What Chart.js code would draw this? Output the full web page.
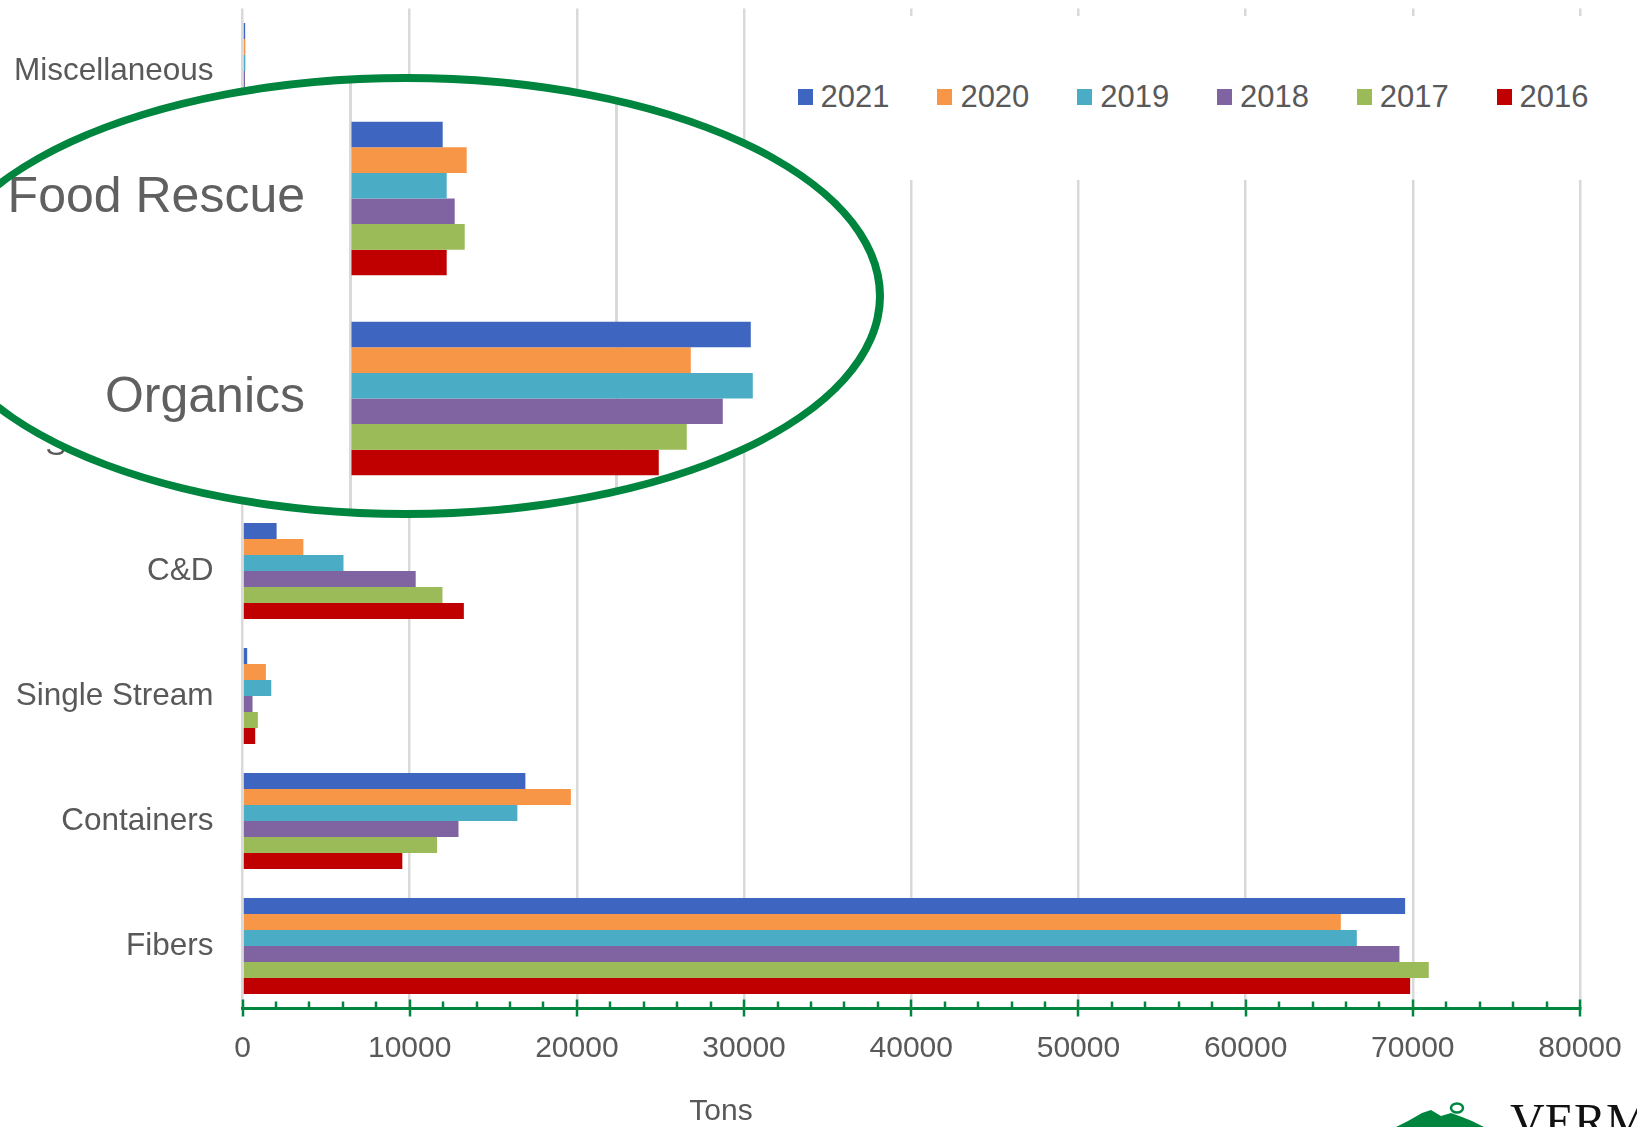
<!doctype html>
<html>
  <head>
    <meta charset="utf-8" />
    <title>Diverted tons by material, 2016-2021</title>
    <script src="https://cdn.jsdelivr.net/npm/chart.js@4.4.1/dist/chart.umd.min.js"></script>
    <style>
*, *:before, *:after {
  box-sizing: border-box;
}
html, body {
  margin: 0;
  padding: 0;
  background: #fff;
}
body {
  position: relative;
  width: 1637px;
  height: 1127px;
  overflow: hidden;
  font-family: "Liberation Sans", Arial, sans-serif;
  color: #595959;
}
#main {
  position: absolute;
  left: 0;
  top: 0;
}
#legend {
  position: absolute;
  left: 770px;
  top: 16px;
  width: 867px;
  height: 164px;
  background: #fff;
}
#legend .item {
  position: absolute;
  top: 65px;
  height: 32px;
  display: flex;
  align-items: center;
  font-size: 31px;
  white-space: nowrap;
}
#legend .item i {
  display: inline-block;
  width: 15px;
  height: 16px;
  margin-right: 8px;
}
/* callout: the same chart blown up 1.6x, seen through a green ring */
#zoom {
  position: absolute;
  left: 0;
  top: -150px;
  clip-path: ellipse(474px 218px at 406px 446px);
}
#ring {
  position: absolute;
  left: -72.25px;
  top: 73.75px;
  width: 956.5px;
  height: 444.5px;
  border: 8.5px solid #00853e;
  border-radius: 50%;
}
#tons {
  position: absolute;
  left: 661px;
  top: 1092px;
  width: 120px;
  text-align: center;
  font-size: 30px;
  line-height: 36px;
}
#logo {
  position: absolute;
  left: 1380px;
  top: 1090px;
}
    </style>
  </head>
  <body>
    <canvas id="main" width="1637" height="1127"></canvas>
    <div id="legend"></div>
    <canvas id="zoom" width="1637" height="1750"></canvas>
    <div id="ring"></div>
    <div id="tons">Tons</div>
    <svg id="logo" width="257" height="37" viewBox="1380 1090 257 37">
      <polygon fill="#00853e" points="1396,1127 1408,1121 1422,1113 1431,1110 1441,1116 1451,1113 1462,1117 1472,1121 1484,1127" />
      <ellipse cx="1457" cy="1108" rx="6" ry="4.5" fill="none" stroke="#00853e" stroke-width="2.5" />
      <text x="1510" y="1137" font-family="Liberation Serif, serif" font-size="48" fill="#111">VERMONT</text>
    </svg>
    <script>
      const categories = ['Miscellaneous', 'Food Rescue', 'Organics', 'Scrap Metal', 'C&D', 'Single Stream', 'Containers', 'Fibers'];
      const years = ['2021', '2020', '2019', '2018', '2017', '2016'];
      const colors = ['#3e66c0', '#f79646', '#4bacc6', '#8064a2', '#9bbb59', '#c00000'];

      // tons per category, same order as categories
      // Scrap Metal sits under the callout in the source, so nothing to read there
      const tons2021 = [160, 3475, 15025, null, 2040, 280, 16920, 69540];
      const tons2020 = [170, 4375, 12775, null, 3640, 1400, 19640, 65695];
      const tons2019 = [170, 3625, 15100, null, 6040, 1720, 16440, 66650];
      const tons2018 = [150, 3925, 13975, null, 10360, 600, 12920, 69200];
      const tons2017 = [140, 4300, 12625, null, 11960, 920, 11640, 70955];
      const tons2016 = [130, 3625, 11575, null, 13240, 760, 9560, 69840];
      const series = [tons2021, tons2020, tons2019, tons2018, tons2017, tons2016];

      const xMax = 80000;
      const xStep = 10000;
      const minorStep = 2000;
      const zoomMax = 40000;

      const green = '#00853e';
      const gridGrey = '#d9d9d9';
      const font = '"Liberation Sans", Arial, sans-serif';

      function makeDatasets() {
        return years.map((y, i) => ({
          label: y,
          data: series[i],
          backgroundColor: colors[i],
          borderWidth: 0,
          categoryPercentage: 0.768,
          barPercentage: 1,
        }));
      }

      // no half-label overhang, the plot area is placed by hand
      function noOverhang(scale) {
        scale.paddingTop = 0;
        scale.paddingBottom = 0;
        scale.paddingLeft = 0;
        scale.paddingRight = 0;
      }

      // little green ticks on the value axis, major ones cross the line
      const axisTicks = {
        id: 'axisTicks',
        afterDraw(chart) {
          const x = chart.scales.x;
          const y0 = chart.chartArea.bottom;
          const ctx = chart.ctx;
          ctx.save();
          ctx.strokeStyle = green;
          ctx.lineWidth = 2.5;
          for (let v = 0; v <= xMax; v += minorStep) {
            const px = Math.round(x.getPixelForValue(v));
            const major = v % xStep === 0;
            ctx.beginPath();
            ctx.moveTo(px, y0 - (major ? 9 : 7));
            ctx.lineTo(px, y0 + (major ? 8 : 0));
            ctx.stroke();
          }
          ctx.restore();
        }
      };

      const whiteBg = {
        id: 'whiteBg',
        beforeDraw(chart) {
          const ctx = chart.ctx;
          ctx.save();
          ctx.fillStyle = '#fff';
          ctx.fillRect(0, 0, chart.width, chart.height);
          ctx.restore();
        }
      };

      Chart.defaults.font.family = font;
      Chart.defaults.color = '#595959';

      const mainChart = new Chart(document.getElementById('main'), {
        type: 'bar',
        data: { labels: categories, datasets: makeDatasets() },
        options: {
          indexAxis: 'y',
          responsive: false,
          animation: false,
          layout: { padding: { top: 8.5, right: 57, bottom: 0, left: 0 } },
          plugins: { legend: { display: false }, tooltip: { enabled: false } },
          scales: {
            x: {
              min: 0,
              max: xMax,
              afterFit(scale) { scale.height = 118.5; noOverhang(scale); },
              grid: { color: gridGrey, lineWidth: 2.5, drawTicks: false },
              border: { display: true, color: green, width: 3 },
              ticks: {
                stepSize: xStep,
                padding: 22,
                color: '#595959',
                font: { size: 30 },
                callback: (v) => String(v),
              },
            },
            y: {
              afterFit(scale) { scale.width = 242.5; noOverhang(scale); },
              grid: { display: false, drawTicks: false },
              border: { display: false },
              ticks: { padding: 29, color: '#595959', font: { size: 31.5 } },
            },
          },
        },
        plugins: [axisTicks],
      });

      // the callout: same data, scaled 1.6x, only the part inside the ring shows
      const zoomChart = new Chart(document.getElementById('zoom'), {
        type: 'bar',
        data: { labels: categories, datasets: makeDatasets() },
        options: {
          indexAxis: 'y',
          responsive: false,
          animation: false,
          layout: { padding: { top: 48.5, right: 220, bottom: 101.5, left: 0 } },
          plugins: { legend: { display: false }, tooltip: { enabled: false } },
          scales: {
            x: {
              min: 0,
              max: zoomMax,
              afterFit(scale) { scale.height = 0; noOverhang(scale); },
              grid: { color: gridGrey, lineWidth: 3, drawTicks: false },
              border: { display: false },
              ticks: { display: false, stepSize: xStep },
            },
            y: {
              afterFit(scale) { scale.width = 350; noOverhang(scale); },
              grid: { display: false, drawTicks: false },
              border: { display: false },
              ticks: { padding: 45, color: '#606060', font: { size: 50 } },
            },
          },
        },
        plugins: [whiteBg],
      });

      // legend box sits over the plot like the Excel one
      const legend = document.getElementById('legend');
      years.forEach((y, i) => {
        const item = document.createElement('div');
        item.className = 'item';
        item.style.left = (27.6 + i * 139.8) + 'px';
        item.innerHTML = '<i style="background:' + colors[i] + '"></i>' + y;
        legend.appendChild(item);
      });
    </script>
  </body>
</html>
